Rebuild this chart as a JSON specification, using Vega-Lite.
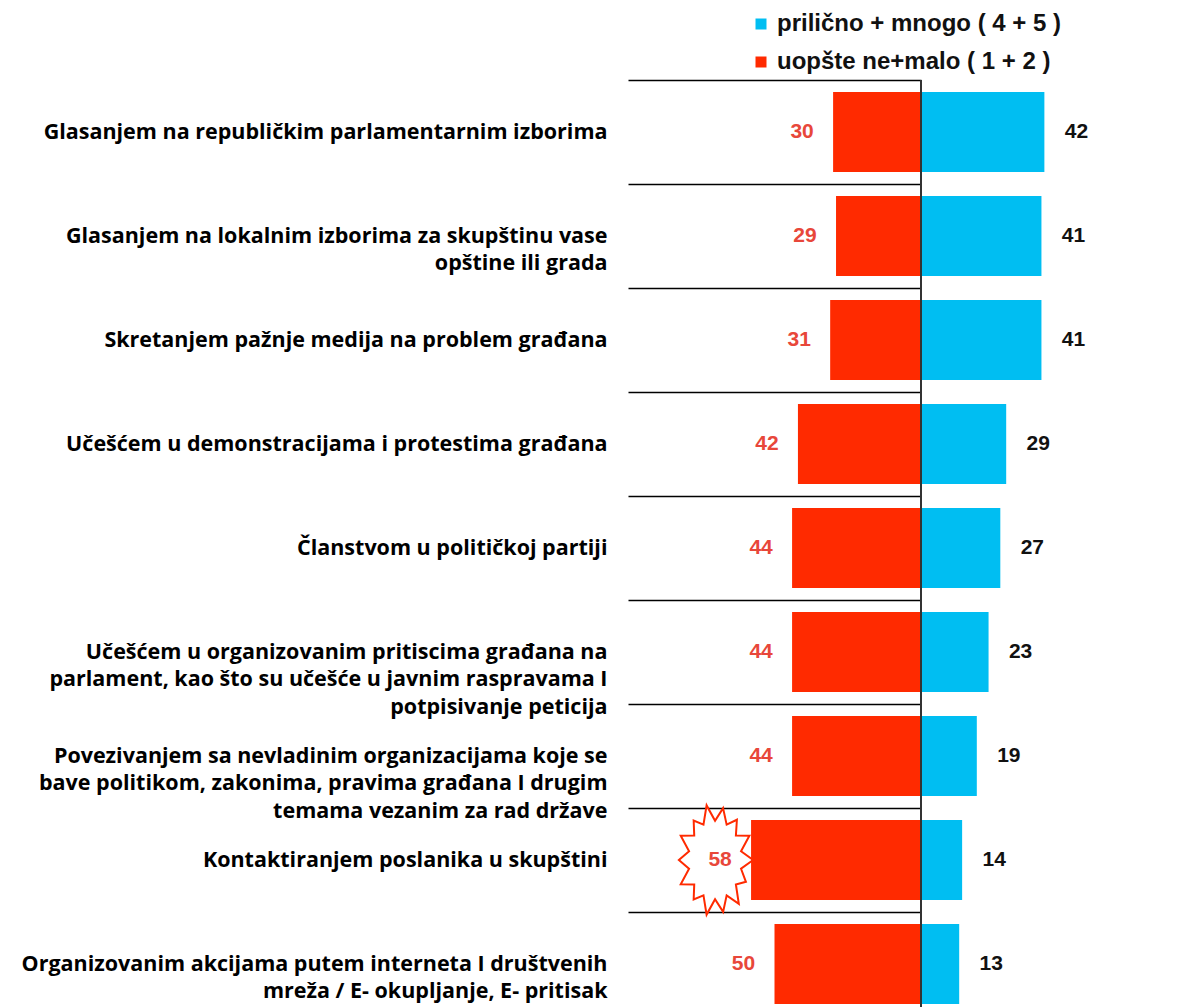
{
  "$schema": "https://vega.github.io/schema/vega-lite/v6.json",
  "autosize": {"type": "none"},
  "padding": {"left": 628, "top": 80, "right": 0, "bottom": 0},
  "width": 575,
  "height": 927,
  "background": "white",
  "data": {"values": [
    {"label": "Glasanjem na republičkim parlamentarnim izborima", "pos": 42, "neg": 30},
    {"label": "Glasanjem na lokalnim izborima za skupštinu vase|opštine ili grada", "pos": 41, "neg": 29},
    {"label": "Skretanjem pažnje medija na problem građana", "pos": 41, "neg": 31},
    {"label": "Učešćem u demonstracijama i protestima građana", "pos": 29, "neg": 42},
    {"label": "Članstvom u političkoj partiji", "pos": 27, "neg": 44},
    {"label": "Učešćem u organizovanim pritiscima građana na|parlament, kao što su učešće u javnim raspravama I|potpisivanje peticija", "pos": 23, "neg": 44},
    {"label": "Povezivanjem sa nevladinim organizacijama koje se|bave politikom, zakonima, pravima građana I drugim|temama vezanim za rad države", "pos": 19, "neg": 44},
    {"label": "Kontaktiranjem poslanika u skupštini", "pos": 14, "neg": 58},
    {"label": "Organizovanim akcijama putem interneta I društvenih|mreža / E- okupljanje, E- pritisak", "pos": 13, "neg": 50}
  ]},
  "encoding": {
    "y": {
      "field": "label", "type": "nominal",
      "sort": [
        "Glasanjem na republičkim parlamentarnim izborima",
        "Glasanjem na lokalnim izborima za skupštinu vase|opštine ili grada",
        "Skretanjem pažnje medija na problem građana",
        "Učešćem u demonstracijama i protestima građana",
        "Članstvom u političkoj partiji",
        "Učešćem u organizovanim pritiscima građana na|parlament, kao što su učešće u javnim raspravama I|potpisivanje peticija",
        "Povezivanjem sa nevladinim organizacijama koje se|bave politikom, zakonima, pravima građana I drugim|temama vezanim za rad države",
        "Kontaktiranjem poslanika u skupštini",
        "Organizovanim akcijama putem interneta I društvenih|mreža / E- okupljanje, E- pritisak"
      ],
      "scale": {"range": [0, 936], "paddingInner": 0, "paddingOuter": 0},
      "axis": {
        "title": null, "domain": false, "ticks": false,
        "grid": true, "gridColor": "#000000", "gridWidth": 1.5, "gridOpacity": 1,
        "tickBand": "extent",
        "labelExpr": "split(datum.label, '|')",
        "labelFont": "Open Sans", "labelFontWeight": 700, "labelFontSize": 21.5,
        "labelColor": "#000000", "labelLimit": 700, "labelPadding": 21,
        "labelLineHeight": 27.5, "labelAlign": "right", "labelBaseline": "middle"
      }
    }
  },
  "layer": [
    {
      "transform": [{"filter": "datum.neg == 58"}],
      "mark": {
        "type": "point", "filled": false, "fill": "white", "fillOpacity": 1, "stroke": "#FF2A00", "strokeWidth": 2, "opacity": 1,
        "size": 12544, "xOffset": -36,
        "shape": "M0.68,0 L0.464,0.156 L0.551,0.39 L0.372,0.436 L0.424,0.782 L0.207,0.631 L0.144,0.926 L0,0.7 L-0.151,0.975 L-0.207,0.631 L-0.382,0.704 L-0.372,0.436 L-0.613,0.434 L-0.464,0.156 L-0.646,0 L-0.464,-0.156 L-0.613,-0.434 L-0.372,-0.436 L-0.382,-0.704 L-0.207,-0.631 L-0.151,-0.975 L0,-0.7 L0.143,-0.926 L0.207,-0.631 L0.39,-0.719 L0.372,-0.436 L0.613,-0.434 L0.464,-0.156 Z"
      },
      "encoding": {
        "x": {"field": "neg", "type": "quantitative", "scale": {"domain": [0, 100], "range": [293, 0]}, "axis": null}
      }
    },
    {
      "mark": {"type": "bar", "color": "#FF2A00", "height": {"band": 0.77}},
      "encoding": {
        "x": {"field": "neg", "type": "quantitative", "scale": {"domain": [0, 100], "range": [293, 0]}, "axis": null},
        "color": {"datum": "uopšte ne+malo ( 1 + 2 )", "type": "nominal",
          "scale": {"domain": ["prilično + mnogo ( 4 + 5 )", "uopšte ne+malo ( 1 + 2 )"], "range": ["#00BEF2", "#FF2A00"]},
          "legend": {
            "title": null, "orient": "none", "legendX": 121, "legendY": -68,
            "symbolType": "square", "symbolSize": 121, "symbolStrokeWidth": 0,
            "labelFont": "Liberation Sans", "labelFontWeight": "bold", "labelFontSize": 24,
            "labelColor": "#111111", "labelOffset": 4, "rowPadding": 14, "labelLimit": 400
          }
        }
      }
    },
    {
      "mark": {"type": "bar", "color": "#00BEF2", "height": {"band": 0.77}},
      "encoding": {
        "x": {"field": "pos", "type": "quantitative", "scale": {"domain": [0, 96], "range": [293, 575]}, "axis": null},
        "color": {"datum": "prilično + mnogo ( 4 + 5 )", "type": "nominal"}
      }
    },
    {
      "mark": {"type": "text", "font": "Liberation Sans", "fontWeight": "bold", "fontSize": 21, "color": "#E8473A", "align": "center", "baseline": "middle", "dx": -31},
      "encoding": {
        "x": {"field": "neg", "type": "quantitative", "scale": {"domain": [0, 100], "range": [293, 0]}, "axis": null},
        "text": {"field": "neg", "type": "quantitative"}
      }
    },
    {
      "mark": {"type": "text", "font": "Liberation Sans", "fontWeight": "bold", "fontSize": 21, "color": "#111111", "align": "center", "baseline": "middle", "dx": 32},
      "encoding": {
        "x": {"field": "pos", "type": "quantitative", "scale": {"domain": [0, 96], "range": [293, 575]}, "axis": null},
        "text": {"field": "pos", "type": "quantitative"}
      }
    },
    {
      "mark": {"type": "rule", "color": "#333333", "strokeWidth": 2},
      "encoding": {
        "x": {"datum": 0, "type": "quantitative", "scale": {"domain": [0, 96], "range": [293, 575]}, "axis": null},
        "y": {"value": 0},
        "y2": {"value": 940}
      }
    }
  ],
  "resolve": {"scale": {"x": "independent"}},
  "config": {"view": {"stroke": null}}
}
